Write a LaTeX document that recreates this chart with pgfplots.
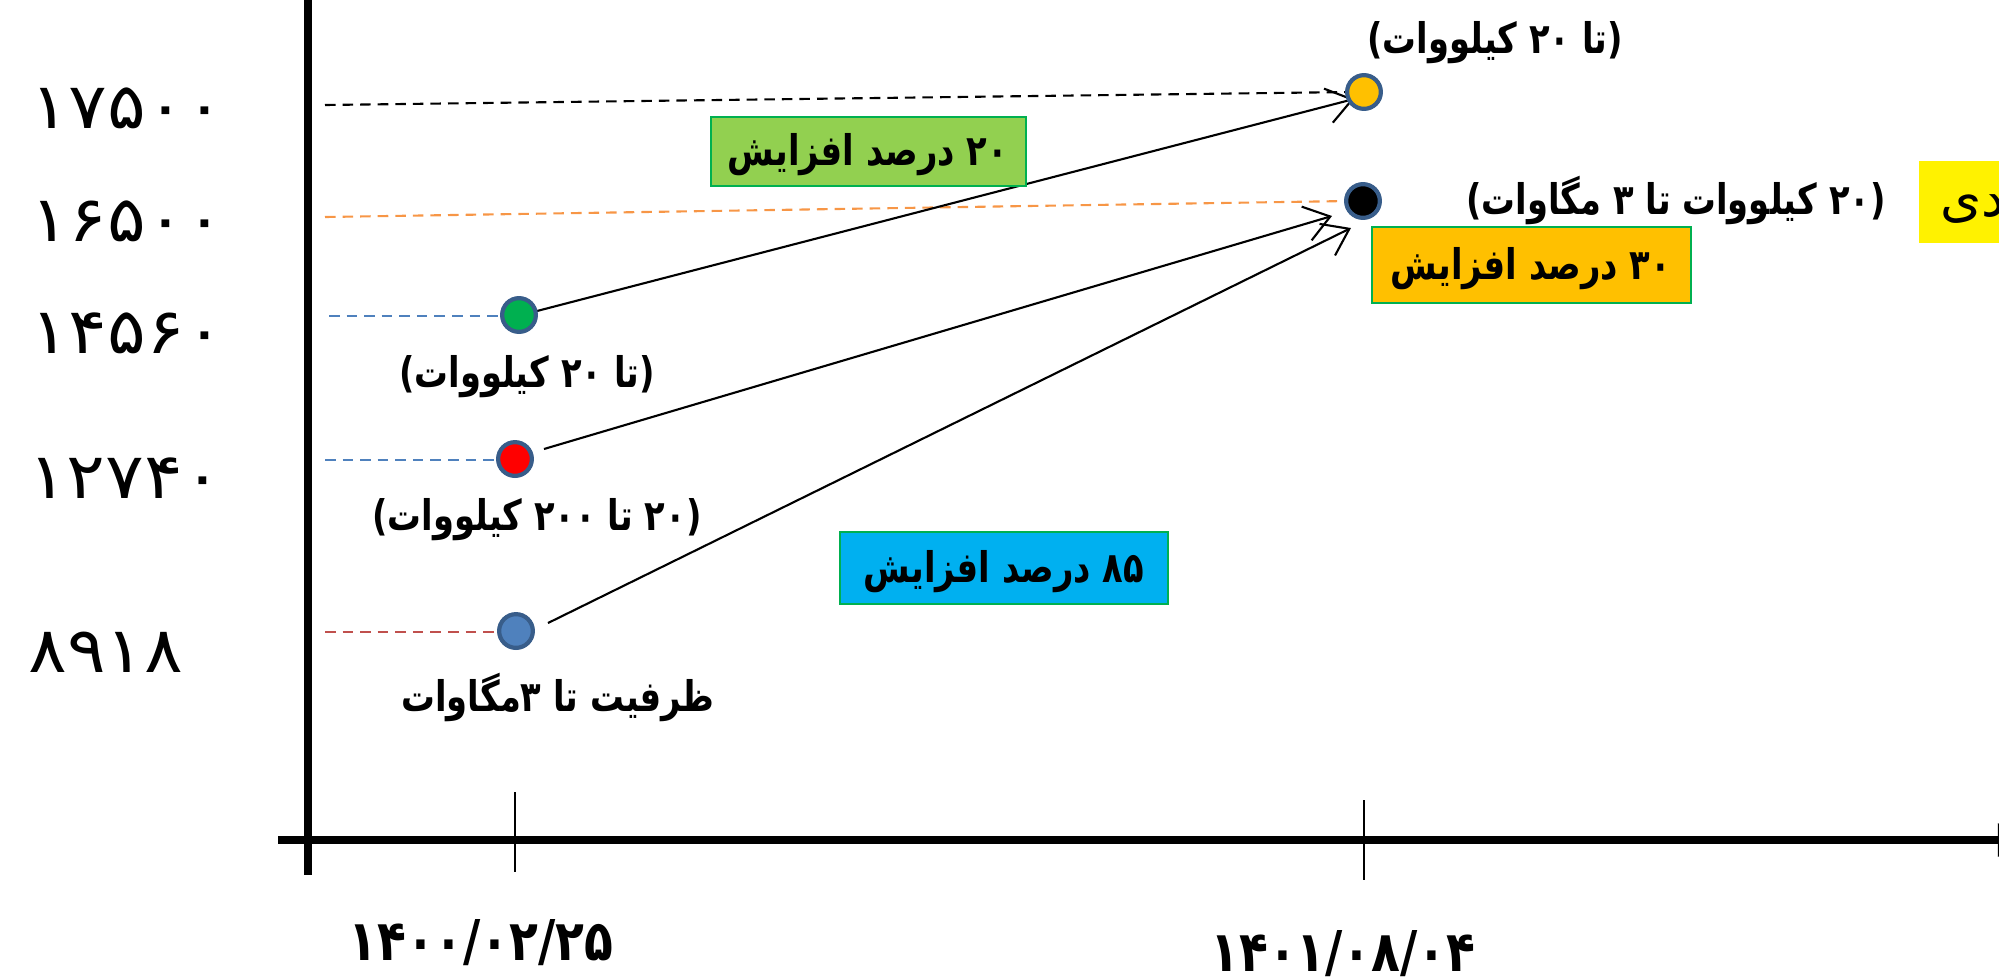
\documentclass[border=0pt]{standalone}
\usepackage{fontspec}
\usepackage{pgfplots}
\pgfplotsset{compat=1.18}
\usetikzlibrary{arrows.meta}
\TeXXeTstate=1
\newfontfamily\fa[Script=Arabic]{DejaVu Sans}

\definecolor{dotedge}{HTML}{385D8A}
\definecolor{dotorange}{HTML}{FFC000}
\definecolor{dotgreen}{HTML}{00B050}
\definecolor{dotred}{HTML}{FF0000}
\definecolor{dotblue}{HTML}{4F81BD}
\definecolor{dashorange}{HTML}{F79646}
\definecolor{dashblue}{HTML}{4F81BD}
\definecolor{dashred}{HTML}{C0504D}
\definecolor{boxgreen}{HTML}{92D050}
\definecolor{boxorange}{HTML}{FFC000}
\definecolor{boxblue}{HTML}{00B0F0}
\definecolor{boxedge}{HTML}{00B050}

\begin{document}
\begin{tikzpicture}
% pixel space of the slide: x to the right, y downwards
\begin{axis}[
  scale only axis, width=19.99cm, height=9.77cm,
  xmin=0, xmax=1999, ymin=0, ymax=977, y dir=reverse,
  hide axis, clip=false,
]
% ---------- frame ----------
\draw[line width=2.3pt] (308,0) -- (308,875);
\draw[line width=2.4pt, -{Triangle[length=8pt,width=9pt]}] (278,840) -- (2026,840);
\draw[line width=0.5pt] (515,792) -- (515,872);
\draw[line width=0.5pt] (1364,800) -- (1364,880);

% ---------- y labels (values) ----------
\begin{scope}[every node/.style={font=\fa\fontsize{18}{20}\selectfont, xscale=1.14}]
\node at (127,108) {۱۷۵۰۰};
\node at (127,221) {۱۶۵۰۰};
\node at (127,333) {۱۴۵۶۰};
\node at (125,478) {۱۲۷۴۰};
\node at (106,652) {۸۹۱۸};
\end{scope}

% ---------- x labels (dates) ----------
\begin{scope}[every node/.style={font=\fa\bfseries\fontsize{16}{18}\selectfont, xscale=0.84}]
\node at (481,943) {۱۴۰۰/۰۲/۲۵};
\node at (1343,954) {۱۴۰۱/۰۸/۰۴};
\end{scope}

% ---------- guide lines ----------
\addplot[black, densely dashed, line width=0.6pt] coordinates {(325,105) (1351,92)};
\addplot[dashorange, densely dashed, line width=0.6pt] coordinates {(325,217) (1348,201)};
\addplot[dashblue, densely dashed, line width=0.6pt] coordinates {(329,316) (504,316)};
\addplot[dashblue, densely dashed, line width=0.6pt] coordinates {(325,460) (500,460)};
\addplot[dashred, densely dashed, line width=0.6pt] coordinates {(325,632) (500,632)};

% ---------- arrows ----------
\addplot[black, line width=0.6pt, -{Straight Barb[length=7pt,width=10pt]}] coordinates {(537,311) (1354,99)};
\addplot[black, line width=0.6pt, -{Straight Barb[length=7pt,width=10pt]}] coordinates {(544,449) (1332,216)};
\addplot[black, line width=0.6pt, -{Straight Barb[length=7pt,width=10pt]}] coordinates {(548,623) (1351,228)};

% ---------- points ----------
\pgfplotsset{dot/.style={only marks, mark=*, mark size=4.8pt,
  mark options={draw=dotedge, line width=1.2pt, fill=#1}}}
\addplot[dot=dotorange] coordinates {(1364,92)};   % 17500
\addplot[dot=black]     coordinates {(1363,201)};  % 16500
\addplot[dot=dotgreen]  coordinates {(519,315)};   % 14560
\addplot[dot=dotred]    coordinates {(515,459)};   % 12740
\addplot[dot=dotblue]   coordinates {(516,631)};   % 8918

% ---------- boxes ----------
\filldraw[fill=boxgreen, draw=boxedge, line width=0.8pt] (711,117) rectangle (1026,186);
\filldraw[fill=boxorange, draw=boxedge, line width=0.8pt] (1372,227) rectangle (1691,303);
\filldraw[fill=boxblue, draw=boxedge, line width=0.8pt] (840,532) rectangle (1168,604);
\fill[yellow] (1919,161) rectangle (2010,243);

\begin{scope}[every node/.style={font=\fa\bfseries\fontsize{12}{14}\selectfont, xscale=0.8}]
\node at (868,155) {\beginR ۲۰ درصد افزایش\endR};
\node at (1531,269) {\beginR ۳۰ درصد افزایش\endR};
\node at (1004,572) {\beginR ۸۵ درصد افزایش\endR};
\node at (1495,43) {\beginR(تا ۲۰ کیلووات)\endR};
\node at (1676,200) {\beginR(۲۰ کیلووات تا ۳ مگاوات)\endR};
\node at (527,377) {\beginR(تا ۲۰ کیلووات)\endR};
\node at (537,520) {\beginR(۲۰ تا ۲۰۰ کیلووات)\endR};
\node at (558,697) {\beginR ظرفیت تا ۳مگاوات\endR};
\end{scope}
\node[font=\fa\fontsize{15}{16}\selectfont, anchor=west, inner sep=0pt] at (1940,203) {\beginR زمانبندی\endR};
\end{axis}
\pgfresetboundingbox
\path[use as bounding box] (current axis.south west) rectangle (current axis.north east);
\end{tikzpicture}
\end{document}
